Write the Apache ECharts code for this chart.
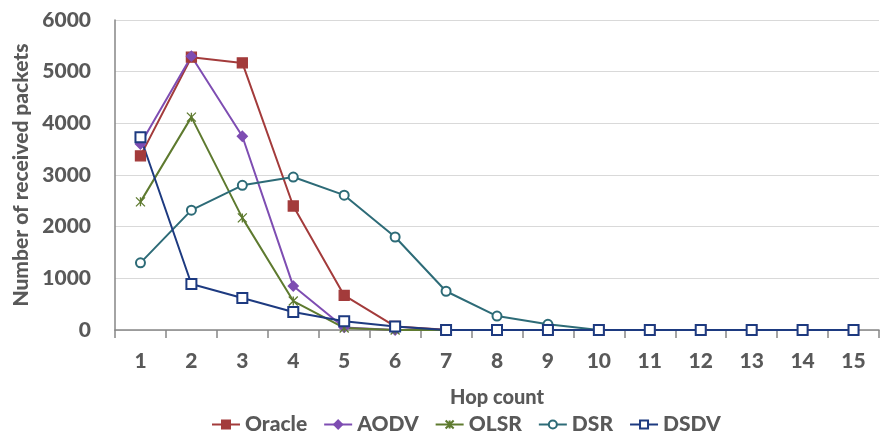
<!DOCTYPE html>
<html>
<head>
<meta charset="utf-8">
<script src="https://cdn.jsdelivr.net/npm/echarts@6/dist/echarts.min.js"></script>
<style>
  html, body { margin: 0; padding: 0; background: #fff; }
  #main { width: 880px; height: 440px; }
</style>
</head>
<body>
<div id="main"></div>
<script>
var hops = ['1', '2', '3', '4', '5', '6', '7', '8', '9', '10', '11', '12', '13', '14', '15'];
var oracle = [3370, 5280, 5170, 2400, 670, 70, 5, 0, 0, 0, 0, 0, 0, 0, 0];
var aodv = [3600, 5300, 3750, 850, 50, 0, 0, 0, 0, 0, 0, 0, 0, 0, 0];
var olsr = [2480, 4120, 2170, 560, 40, 0, 0, 0, 0, 0, 0, 0, 0, 0, 0];
var dsr = [1300, 2320, 2800, 2960, 2610, 1800, 750, 270, 110, 0, 0, 0, 0, 0, 0];
var dsdv = [3730, 890, 620, 350, 170, 70, 0, 0, 0, 0, 0, 0, 0, 0, 0];

var txt = '#595959';
var fnt = 'Lato, "Noto Sans", sans-serif';
var fw = 900;

function line(name, data, color, symbol, size) {
  return {
    name: name,
    type: 'line',
    data: data,
    symbol: symbol,
    symbolSize: size,
    showAllSymbol: true,
    lineStyle: { color: color, width: 2 },
    itemStyle: { color: color, borderColor: color, borderWidth: 1.3 },
    emphasis: { disabled: true }
  };
}

var myChart = echarts.init(document.getElementById('main'));
var option = {
  animation: false,
  textStyle: { fontFamily: fnt },
  grid: { left: 115, right: 1, top: 20, bottom: 110 },
  legend: {
    bottom: 0,
    left: 206,
    itemWidth: 28,
    itemHeight: 10,
    itemGap: 16,
    textStyle: { color: txt, fontSize: 21, fontWeight: fw, fontFamily: fnt }
  },
  xAxis: {
    type: 'category',
    data: hops,
    boundaryGap: true,
    name: 'Hop count',
    nameLocation: 'middle',
    nameGap: 58,
    nameTextStyle: { color: txt, fontSize: 20, fontWeight: fw },
    axisLine: { lineStyle: { color: '#868686', width: 1.5 } },
    axisTick: { show: true, length: 8, lineStyle: { color: '#868686', width: 1.5 } },
    axisLabel: { color: txt, fontSize: 21, fontWeight: fw, margin: 21 },
    splitLine: { show: false }
  },
  yAxis: {
    type: 'value',
    min: 0,
    max: 6000,
    interval: 1000,
    name: 'Number of received packets',
    nameLocation: 'middle',
    nameGap: 82,
    nameTextStyle: { color: txt, fontSize: 21, fontWeight: fw },
    axisLine: { show: true, lineStyle: { color: '#868686', width: 1.5 } },
    axisTick: { show: false },
    axisLabel: {
      color: txt, fontSize: 21, fontWeight: fw, margin: 24,
      formatter: function (v) { return String(v); }
    },
    splitLine: { lineStyle: { color: '#D9D9D9', width: 1 } }
  },
  series: [
    line('Oracle', oracle, '#A33B3B', 'rect', 10),
    line('AODV', aodv, '#7E4DB2', 'diamond', 10),
    line('OLSR', olsr, '#5E7A2F', 'path://M0,0L10,10M10,0L0,10M5,0L5,10', 9),
    line('DSR', dsr, '#2D6B77', 'emptyCircle', 9),
    line('DSDV', dsdv, '#1D3A80', 'emptyRect', 10)
  ]
};
myChart.setOption(option);
</script>
</body>
</html>
